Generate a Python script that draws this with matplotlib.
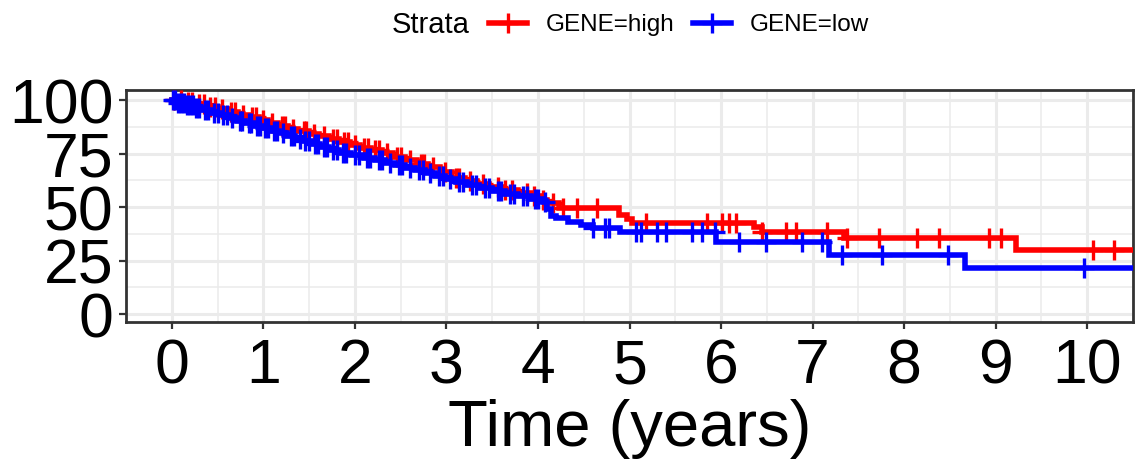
import numpy as np
import matplotlib
matplotlib.use("Agg")
import matplotlib.pyplot as plt
from matplotlib.lines import Line2D
from matplotlib.ticker import MultipleLocator

plt.rcParams["font.family"] = ["Liberation Sans", "DejaVu Sans"]

# Kaplan-Meier steps (years, % surviving) for each stratum
high_time = [0, 0.12, 0.25, 0.38, 0.5, 0.61, 0.72, 0.84, 0.95, 1.05, 1.16, 1.27,
             1.38, 1.5, 1.61, 1.72, 1.83, 1.95, 2.06, 2.18, 2.3, 2.42, 2.55, 2.68,
             2.8, 2.93, 3.06, 3.2, 3.33, 3.47, 3.62, 3.78, 3.92, 4.03, 4.1, 4.23,
             4.89, 4.97, 5.03, 6.36, 6.45, 7.34, 9.22]
high_surv = [100, 99.0, 98.0, 96.8, 95.6, 94.4, 93.2, 91.9, 90.5, 89.2, 87.8, 86.6,
             85.4, 84.2, 83.0, 81.7, 80.4, 79.1, 77.8, 76.5, 75.1, 73.6, 72.0, 70.3,
             68.5, 66.2, 63.5, 62.0, 60.6, 59.2, 57.8, 56.4, 55.0, 53.3, 51.8, 49.5,
             46.5, 44.5, 42.5, 40.5, 38.3, 35.5, 30.0]
high_cens = [0.02, 0.1, 0.18, 0.22, 0.3, 0.35, 0.42, 0.47, 0.55, 0.65, 0.69, 0.78,
             0.88, 0.92, 1.0, 1.1, 1.2, 1.24, 1.32, 1.44, 1.47, 1.55, 1.66, 1.76,
             1.8, 1.88, 1.92, 2.0, 2.1, 2.14, 2.22, 2.26, 2.35, 2.46, 2.5, 2.6,
             2.72, 2.76, 2.85, 2.98, 3.1, 3.14, 3.26, 3.4, 3.56, 3.64, 3.72, 3.88,
             3.96, 4.06, 4.16, 4.27, 4.43, 4.65, 5.18, 5.85, 6.01, 6.09, 6.16, 6.45,
             6.71, 6.82, 7.16, 7.38, 7.72, 8.14, 8.38, 8.93, 9.06, 10.06, 10.29]

low_time = [0, 0.06, 0.15, 0.25, 0.34, 0.44, 0.53, 0.62, 0.71, 0.8, 0.9, 0.99,
            1.08, 1.17, 1.26, 1.35, 1.44, 1.53, 1.62, 1.72, 1.83, 1.96, 2.1, 2.22,
            2.33, 2.44, 2.55, 2.66, 2.77, 2.88, 2.99, 3.1, 3.22, 3.36, 3.5, 3.64,
            3.78, 3.92, 4.05, 4.1, 4.14, 4.2, 4.33, 4.47, 4.6, 4.9, 5.95, 7.18, 8.67]
low_surv = [100, 98.8, 97.6, 96.4, 95.2, 94.0, 92.8, 91.6, 90.4, 89.2, 88.0, 86.8,
            85.6, 84.4, 83.2, 82.0, 80.7, 79.3, 78.0, 76.6, 75.4, 74.3, 73.1, 71.9,
            70.8, 69.6, 68.4, 67.1, 65.8, 64.4, 63.0, 61.6, 60.2, 58.9, 57.6, 56.3,
            55.0, 53.7, 52.2, 49.3, 46.0, 44.9, 43.0, 41.6, 40.2, 38.3, 33.6, 27.6,
            21.5]
low_cens = [0.01, 0.04, 0.07, 0.1, 0.13, 0.17, 0.2, 0.23, 0.27, 0.3, 0.36, 0.4,
            0.46, 0.5, 0.56, 0.6, 0.66, 0.74, 0.77, 0.84, 0.87, 0.93, 0.96, 1.02,
            1.05, 1.12, 1.15, 1.21, 1.3, 1.33, 1.4, 1.46, 1.5, 1.56, 1.6, 1.66,
            1.7, 1.76, 1.8, 1.87, 1.9, 2.0, 2.04, 2.13, 2.17, 2.26, 2.3, 2.38,
            2.48, 2.52, 2.6, 2.7, 2.74, 2.82, 2.92, 2.96, 3.04, 3.14, 3.18, 3.28,
            3.32, 3.42, 3.46, 3.56, 3.6, 3.7, 3.74, 3.84, 3.88, 3.97, 4.0, 4.08,
            4.6, 4.73, 4.78, 5.07, 5.13, 5.3, 5.4, 5.68, 5.79, 5.93, 6.2, 6.49,
            6.88, 7.1, 7.32, 7.76, 8.48, 9.96]

t_end = 10.5
strata = [("GENE=high", "#FF0000", high_time, high_surv, high_cens),
          ("GENE=low", "#0000FF", low_time, low_surv, low_cens)]

fig = plt.figure(figsize=(11.38, 4.68), dpi=100)
ax = fig.add_axes([126 / 1138, 1 - 322 / 468, (1133 - 126) / 1138, (322 - 90) / 468])

for name, col, t, s, c in strata:
    t = np.asarray(t)
    s = np.asarray(s)
    ax.step(np.append(t, t_end), np.append(s, s[-1]), where="post",
            color=col, lw=4, solid_joinstyle="miter", zorder=3)
    idx = np.searchsorted(t, c, side="right") - 1
    ax.plot(c, s[idx], ls="none", marker="+", ms=14, mew=2.4, color=col, zorder=3)

ax.set_xlim(-0.5, 10.5)
ax.set_ylim(-3.7, 104.7)
ax.xaxis.set_major_locator(MultipleLocator(1))
ax.xaxis.set_minor_locator(MultipleLocator(0.5))
ax.yaxis.set_major_locator(MultipleLocator(25))
ax.yaxis.set_minor_locator(MultipleLocator(12.5))
ax.grid(which="major", color="#EBEBEB", lw=2.2, zorder=0)
ax.grid(which="minor", color="#EBEBEB", lw=1.1, zorder=0)
ax.set_axisbelow(True)
for sp in ax.spines.values():
    sp.set_color("#333333")
    sp.set_linewidth(2)
ax.tick_params(which="major", length=5, width=1.6, color="#333333",
               labelsize=45, labelcolor="black")
ax.tick_params(axis="x", pad=6)
ax.tick_params(axis="y", pad=4)
ax.tick_params(which="minor", length=0)
ax.set_xlabel("Time (years)", fontsize=47, labelpad=2)

handles = [Line2D([], [], color=col, lw=4, marker="+", ms=14, mew=2.4)
           for _, col, *_ in strata]
fig.text(392 / 1138, 1 - 25 / 468, "Strata", fontsize=21, ha="left", va="center")
fig.legend(handles, [s[0] for s in strata], loc="center left",
           bbox_to_anchor=(489 / 1138, 1 - 25 / 468), ncol=2, frameon=False,
           fontsize=17.5, handlelength=1.55, handletextpad=0.8, columnspacing=0.75,
           borderpad=0, borderaxespad=0)

fig.savefig("out.png", dpi=100)
